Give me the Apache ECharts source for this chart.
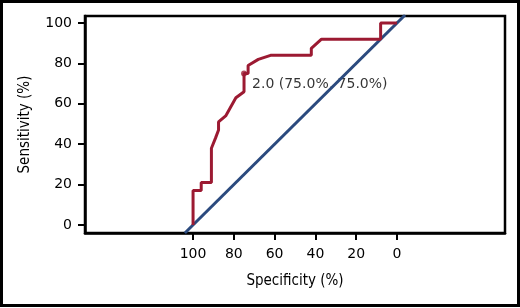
<!DOCTYPE html>
<html>
<head>
<meta charset="utf-8">
<script src="https://cdn.jsdelivr.net/npm/echarts@6/dist/echarts.min.js"></script>
<style>
html, body { margin: 0; padding: 0; background: #fff; }
#roc { width: 520px; height: 308px; }
</style>
</head>
<body>
<div id="roc"></div>
<script>
// ROC curve points: [specificity, sensitivity]
var rocSpec = [100, 100, 96, 96, 91, 91, 89, 87.5, 87.5, 84, 79, 75, 75, 73, 73, 68, 62, 42, 42, 37, 8, 8, 0];
var rocSens = [0, 17, 17, 21, 21, 38, 43, 47, 51, 54, 63, 66, 75, 75, 79, 82, 84, 84, 87.5, 92, 92, 100, 100];
// reference diagonal
var diagSpec = [104, -4];
var diagSens = [-4, 104];
// cut-off point
var cutPoint = [75, 75];
var cutLabel = '2.0 (75.0%, 75.0%)';
var tickValues = [0, 20, 40, 60, 80, 100];

var rocData = rocSpec.map(function (s, i) { return [s, rocSens[i]]; });
var diagData = diagSpec.map(function (s, i) { return [s, diagSens[i]]; });

var nameFont = '"DejaVu Sans Condensed", "Liberation Sans Narrow", sans-serif';

var myChart = echarts.init(document.getElementById('roc'));
var option = {
	animation: false,
	graphic: [{
		type: 'rect',
		shape: { x: 1.5, y: 1.5, width: 517, height: 304 },
		style: { fill: 'none', stroke: '#000', lineWidth: 3 },
		silent: true
	}],
	grid: {
		left: 85, right: 15, top: 16, bottom: 75,
		show: true,
		borderColor: '#000',
		borderWidth: 2.5
	},
	xAxis: {
		type: 'value',
		inverse: true,
		min: -53,
		max: 153,
		name: 'Specificity (%)',
		nameLocation: 'middle',
		nameGap: 41,
		nameTextStyle: { fontFamily: nameFont, fontSize: 15, color: '#000' },
		splitLine: { show: false },
		axisLine: { show: true, onZero: false, lineStyle: { color: '#000', width: 2.5 } },
		axisTick: { show: true, length: 7, customValues: tickValues, lineStyle: { color: '#000', width: 2 } },
		axisLabel: { customValues: tickValues, margin: 14, fontFamily: '"DejaVu Sans"', fontSize: 14, color: '#000' }
	},
	yAxis: {
		type: 'value',
		min: -4,
		max: 103.5,
		name: 'Sensitivity (%)',
		nameLocation: 'middle',
		nameGap: 52,
		nameTextStyle: { fontFamily: nameFont, fontSize: 15, color: '#000' },
		splitLine: { show: false },
		axisLine: { show: true, onZero: false, lineStyle: { color: '#000', width: 2.5 } },
		axisTick: { show: true, length: 7, customValues: tickValues, lineStyle: { color: '#000', width: 2 } },
		axisLabel: { customValues: tickValues, margin: 13, fontFamily: '"DejaVu Sans"', fontSize: 14, color: '#000' }
	},
	series: [
		{
			name: 'diagonal',
			type: 'line',
			data: diagData,
			showSymbol: false,
			lineStyle: { color: '#2b4a7e', width: 3 }
		},
		{
			name: 'ROC',
			type: 'line',
			data: rocData,
			showSymbol: false,
			lineStyle: { color: '#9c1a32', width: 3 }
		},
		{
			name: 'cutoff',
			type: 'scatter',
			data: [cutPoint],
			symbolSize: 6,
			itemStyle: { color: '#9c1a32' },
			label: {
				show: true,
				position: 'right',
				distance: 5,
				offset: [0, 11],
				formatter: cutLabel,
				fontFamily: '"DejaVu Sans"',
				fontSize: 14,
				color: '#000',
				textBorderWidth: 0
			}
		}
	]
};
myChart.setOption(option);
</script>
</body>
</html>
